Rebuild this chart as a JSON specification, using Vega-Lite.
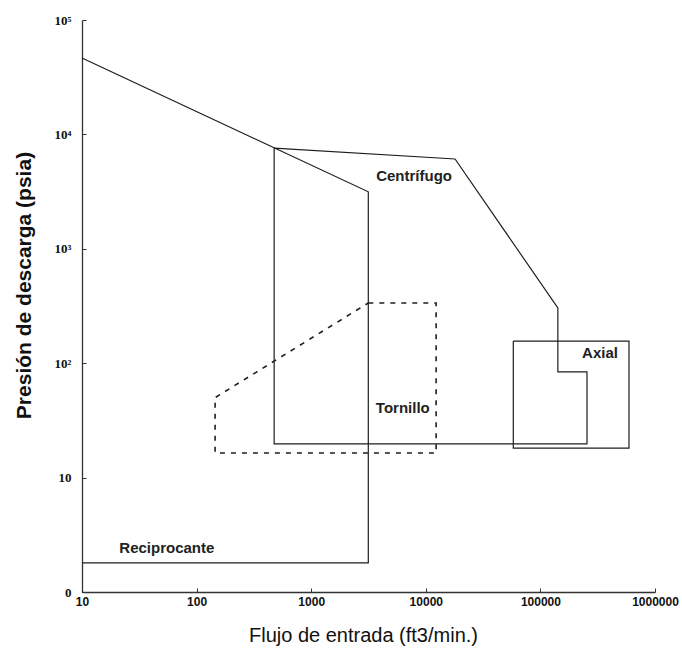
{
  "$schema": "https://vega.github.io/schema/vega-lite/v6.json",
  "autosize": "none",
  "width": 573,
  "height": 572,
  "padding": {"left": 82, "top": 20, "right": 27, "bottom": 57},
  "background": "white",
  "config": {"view": {"stroke": null}},
  "datasets": {
    "lines": [
      {"series": "Reciprocante", "ord": 1, "flujo": 10, "presion": 46500},
      {"series": "Reciprocante", "ord": 2, "flujo": 3150, "presion": 3150},
      {"series": "Reciprocante", "ord": 3, "flujo": 3150, "presion": 1.8},
      {"series": "Reciprocante", "ord": 4, "flujo": 10, "presion": 1.8},
      {"series": "Centrifugo", "ord": 1, "flujo": 475, "presion": 7600},
      {"series": "Centrifugo", "ord": 2, "flujo": 18000, "presion": 6100},
      {"series": "Centrifugo", "ord": 3, "flujo": 142000, "presion": 304},
      {"series": "Centrifugo", "ord": 4, "flujo": 142000, "presion": 84},
      {"series": "Centrifugo", "ord": 5, "flujo": 255000, "presion": 84},
      {"series": "Centrifugo", "ord": 6, "flujo": 255000, "presion": 19.7},
      {"series": "Centrifugo", "ord": 7, "flujo": 475, "presion": 19.7},
      {"series": "Centrifugo", "ord": 8, "flujo": 475, "presion": 7600},
      {"series": "Axial", "ord": 1, "flujo": 58000, "presion": 156},
      {"series": "Axial", "ord": 2, "flujo": 593000, "presion": 156},
      {"series": "Axial", "ord": 3, "flujo": 593000, "presion": 18.1},
      {"series": "Axial", "ord": 4, "flujo": 58000, "presion": 18.1},
      {"series": "Axial", "ord": 5, "flujo": 58000, "presion": 156},
      {"series": "Tornillo", "ord": 1, "flujo": 3150, "presion": 336},
      {"series": "Tornillo", "ord": 2, "flujo": 12300, "presion": 336},
      {"series": "Tornillo", "ord": 3, "flujo": 12300, "presion": 16.4},
      {"series": "Tornillo", "ord": 4, "flujo": 145, "presion": 16.4},
      {"series": "Tornillo", "ord": 5, "flujo": 145, "presion": 50},
      {"series": "Tornillo", "ord": 6, "flujo": 3150, "presion": 336}
    ],
    "labels": [
      {"texto": "Centrífugo", "flujo": 7900, "presion": 4330},
      {"texto": "Axial", "flujo": 331000, "presion": 123},
      {"texto": "Tornillo", "flujo": 6300, "presion": 40.6},
      {"texto": "Reciprocante", "flujo": 55, "presion": 2.42}
    ]
  },
  "layer": [
    {
      "data": {"name": "lines"},
      "transform": [{"filter": "datum.series !== 'Tornillo'"}],
      "mark": {"type": "line", "color": "#1e1e1e", "strokeWidth": 1.2},
      "encoding": {
        "x": {
          "field": "flujo", "type": "quantitative",
          "scale": {"type": "log", "domain": [10, 1000000]},
          "axis": {
            "title": "Flujo de entrada (ft3/min.)",
            "values": [10, 100, 1000, 10000, 100000, 1000000],
            "format": "d",
            "grid": false,
            "domainColor": "#333", "domainWidth": 1.3,
            "tickColor": "#333", "tickSize": -4,
            "labelFont": "Liberation Sans", "labelFontWeight": "bold", "labelFontSize": 12,
            "labelColor": "#111", "labelPadding": 8, "labelFlush": false,
            "titleFont": "Liberation Sans", "titleFontWeight": "normal", "titleFontSize": 20,
            "titleColor": "#111", "titleX": 281, "titleY": 43, "titleBaseline": "middle"
          }
        },
        "y": {
          "field": "presion", "type": "quantitative",
          "scale": {"type": "log", "domain": [1, 100000]},
          "axis": {
            "title": "Presión de descarga (psia)",
            "values": [1, 10, 100, 1000, 10000, 100000],
            "labelExpr": "datum.value == 1 ? '0' : datum.value == 10 ? '10' : datum.value == 100 ? '10²' : datum.value == 1000 ? '10³' : datum.value == 10000 ? '10⁴' : '10⁵'",
            "grid": false,
            "domainColor": "#333", "domainWidth": 1.3,
            "tickColor": "#333", "tickSize": -4,
            "labelFont": "Liberation Serif", "labelFontWeight": "bold", "labelFontSize": 13,
            "labelColor": "#111", "labelPadding": 15, "labelFlush": false,
            "titleFont": "Liberation Sans", "titleFontWeight": "bold", "titleFontSize": 21,
            "titleColor": "#111", "titleX": -58, "titleY": 265, "titleBaseline": "middle"
          }
        },
        "detail": {"field": "series"},
        "order": {"field": "ord", "type": "quantitative"}
      }
    },
    {
      "data": {"name": "lines"},
      "transform": [{"filter": "datum.series === 'Tornillo'"}],
      "mark": {"type": "line", "color": "#1e1e1e", "strokeWidth": 1.6, "strokeDash": [5, 6]},
      "encoding": {
        "x": {"field": "flujo", "type": "quantitative"},
        "y": {"field": "presion", "type": "quantitative"},
        "order": {"field": "ord", "type": "quantitative"}
      }
    },
    {
      "data": {"name": "labels"},
      "mark": {"type": "text", "font": "Liberation Sans", "fontWeight": "bold", "fontSize": 15, "color": "#222"},
      "encoding": {
        "x": {"field": "flujo", "type": "quantitative"},
        "y": {"field": "presion", "type": "quantitative"},
        "text": {"field": "texto"}
      }
    }
  ]
}
